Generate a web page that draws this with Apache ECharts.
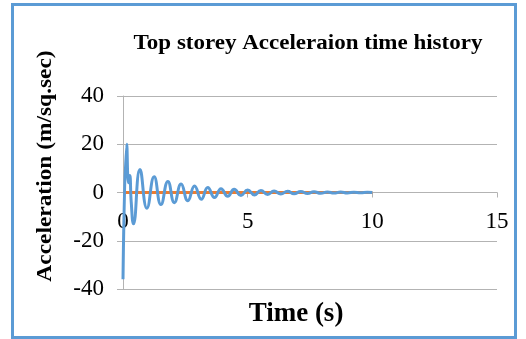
<!DOCTYPE html>
<html>
<head>
<meta charset="utf-8">
<script src="https://cdn.jsdelivr.net/npm/echarts@6/dist/echarts.min.js"></script>
<style>
html,body{margin:0;padding:0;background:#fff;}
#chart{width:526px;height:339px;}
</style>
</head>
<body>
<div id="chart"></div>
<script>
// Data
var titleText = 'Top storey Acceleraion time history';
var xAxisTitle = 'Time (s)';
var yAxisTitle = 'Acceleration (m/sq.sec)';
var xTicks = [0, 5, 10, 15];
var yTicks = [-40, -20, 0, 20, 40];
var timeS = [0, 0.15, 0.22, 0.27, 0.33, 0.42, 0.68, 0.96, 1.25, 1.52, 1.8, 2.06, 2.33, 2.6, 2.87, 3.14, 3.4, 3.67, 3.93, 4.2, 4.46, 4.73, 5.0, 5.27, 5.53, 5.8, 6.06, 6.33, 6.6, 6.86, 7.13, 7.4, 7.66, 7.93, 8.2, 8.46, 8.73, 9.0, 9.26, 9.53, 9.8, 10.0];
var topAccel = [-36, 20, 4, 7, -4, -13, 9.5, -6.5, 6.5, -5, 4.6, -4.2, 3.5, -3.4, 2.7, -2.8, 2.1, -2.1, 1.6, -1.6, 1.3, -1.2, 1.0, -1.0, 0.8, -0.8, 0.6, -0.6, 0.5, -0.5, 0.4, -0.4, 0.3, -0.3, 0.25, -0.25, 0.2, -0.2, 0.15, -0.15, 0.1, 0];
var baseTime = [0, 10];
var baseAccel = [0, 0];

function pairs(xs, ys) { return xs.map(function (x, i) { return [x, ys[i]]; }); }

var serif = '"Liberation Serif", "DejaVu Serif", serif';
var gridColor = '#B3B3B3';
var gridTop = 96, gridBottom = 50, H = 339;
var zeroOffset = -((H - gridBottom - gridTop) / 2);
var chart = echarts.init(document.getElementById('chart'), null, {renderer: 'canvas'});
chart.setOption({
  animation: false,
  backgroundColor: '#fff',
  grid: {left: 123, right: 29, top: gridTop, bottom: gridBottom, containLabel: false},
  xAxis: {
    type: 'value', min: xTicks[0], max: xTicks[xTicks.length - 1], interval: 5,
    offset: zeroOffset,
    axisLine: {show: true, onZero: false, lineStyle: {color: gridColor, width: 1}},
    axisTick: {show: true, inside: false, length: 5, lineStyle: {color: gridColor}},
    axisLabel: {margin: 18, fontFamily: serif, fontSize: 23, color: '#000'},
    splitLine: {show: false}
  },
  yAxis: {
    type: 'value', min: yTicks[0], max: yTicks[yTicks.length - 1], interval: 20,
    axisLine: {show: true, onZero: false, lineStyle: {color: gridColor, width: 1}},
    axisTick: {show: true, inside: false, length: 6, lineStyle: {color: gridColor}},
    axisLabel: {margin: 19, fontFamily: serif, fontSize: 23, color: '#000'},
    splitLine: {show: true, lineStyle: {color: gridColor, width: 1}}
  },
  series: [
    {
      name: 'Base', type: 'line', data: pairs(baseTime, baseAccel), showSymbol: false,
      lineStyle: {color: '#ED7D31', width: 3}, z: 2
    },
    {
      name: 'Top storey', type: 'line', data: pairs(timeS, topAccel), showSymbol: false,
      smooth: 0.5, lineStyle: {color: '#5B9BD5', width: 3}, z: 3
    }
  ],
  graphic: [
    {type: 'rect', shape: {x: 12.5, y: 4.5, width: 503, height: 333}, style: {fill: 'none', stroke: '#5B9BD5', lineWidth: 3}, z: 10},
    {type: 'text', x: 308, y: 44, scaleX: 1.15, style: {text: titleText, font: 'bold 20px ' + serif, fill: '#000', textAlign: 'center', textVerticalAlign: 'middle'}},
    {type: 'text', x: 296, y: 314, style: {text: xAxisTitle, font: 'bold 27px ' + serif, fill: '#000', textAlign: 'center', textVerticalAlign: 'middle'}},
    {type: 'text', x: 46, y: 166, rotation: Math.PI / 2, scaleX: 1.17, style: {text: yAxisTitle, font: 'bold 20px ' + serif, fill: '#000', textAlign: 'center', textVerticalAlign: 'middle'}}
  ]
});
</script>
</body>
</html>
